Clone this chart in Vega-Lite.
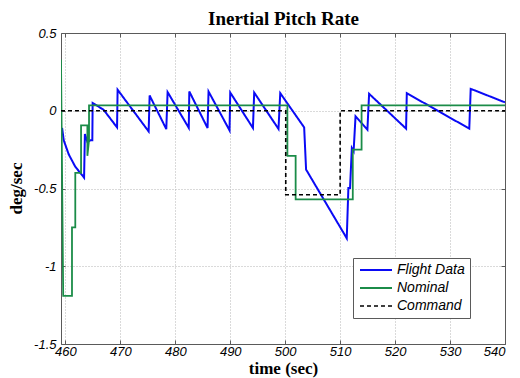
{
  "$schema": "https://vega.github.io/schema/vega-lite/v6.json",
  "width": 444,
  "height": 311,
  "autosize": {"type": "none"},
  "padding": {"left": 61, "top": 33, "right": 15, "bottom": 34},
  "background": "white",
  "data": {
    "values": [
      {"series": "Flight Data", "t": 459.4, "v": -0.11},
      {"series": "Flight Data", "t": 459.7, "v": -0.19},
      {"series": "Flight Data", "t": 460.6, "v": -0.28},
      {"series": "Flight Data", "t": 461.8, "v": -0.36},
      {"series": "Flight Data", "t": 463.4, "v": -0.43},
      {"series": "Flight Data", "t": 463.55, "v": -0.15},
      {"series": "Flight Data", "t": 464.0, "v": -0.2},
      {"series": "Flight Data", "t": 464.55, "v": -0.19},
      {"series": "Flight Data", "t": 464.9, "v": -0.19},
      {"series": "Flight Data", "t": 464.96, "v": 0.05},
      {"series": "Flight Data", "t": 466.96, "v": 0.006},
      {"series": "Flight Data", "t": 469.4, "v": -0.107},
      {"series": "Flight Data", "t": 469.5, "v": 0.135},
      {"series": "Flight Data", "t": 475.15, "v": -0.133},
      {"series": "Flight Data", "t": 475.33, "v": 0.098},
      {"series": "Flight Data", "t": 478.36, "v": -0.118},
      {"series": "Flight Data", "t": 478.6, "v": 0.12},
      {"series": "Flight Data", "t": 482.45, "v": -0.11},
      {"series": "Flight Data", "t": 482.55, "v": 0.124},
      {"series": "Flight Data", "t": 485.87, "v": -0.111},
      {"series": "Flight Data", "t": 486.05, "v": 0.124},
      {"series": "Flight Data", "t": 489.87, "v": -0.126},
      {"series": "Flight Data", "t": 490.0, "v": 0.117},
      {"series": "Flight Data", "t": 494.13, "v": -0.111},
      {"series": "Flight Data", "t": 494.36, "v": 0.117},
      {"series": "Flight Data", "t": 498.78, "v": -0.117},
      {"series": "Flight Data", "t": 499.1, "v": 0.113},
      {"series": "Flight Data", "t": 503.45, "v": -0.107},
      {"series": "Flight Data", "t": 503.8, "v": -0.378},
      {"series": "Flight Data", "t": 511.2, "v": -0.82},
      {"series": "Flight Data", "t": 511.5, "v": -0.496},
      {"series": "Flight Data", "t": 511.8, "v": -0.496},
      {"series": "Flight Data", "t": 512.13, "v": -0.24},
      {"series": "Flight Data", "t": 512.45, "v": -0.26},
      {"series": "Flight Data", "t": 512.8, "v": -0.036},
      {"series": "Flight Data", "t": 514.96, "v": -0.122},
      {"series": "Flight Data", "t": 515.27, "v": 0.109},
      {"series": "Flight Data", "t": 522.0, "v": -0.115},
      {"series": "Flight Data", "t": 522.13, "v": 0.113},
      {"series": "Flight Data", "t": 533.5, "v": -0.115},
      {"series": "Flight Data", "t": 533.76, "v": 0.141},
      {"series": "Flight Data", "t": 540.0, "v": 0.054},

      {"series": "Nominal", "t": 459.2, "v": 0.33},
      {"series": "Nominal", "t": 459.6, "v": -1.19},
      {"series": "Nominal", "t": 461.2, "v": -1.19},
      {"series": "Nominal", "t": 461.2, "v": -0.75},
      {"series": "Nominal", "t": 461.8, "v": -0.75},
      {"series": "Nominal", "t": 461.8, "v": -0.4},
      {"series": "Nominal", "t": 462.85, "v": -0.4},
      {"series": "Nominal", "t": 462.85, "v": -0.094},
      {"series": "Nominal", "t": 464.0, "v": -0.094},
      {"series": "Nominal", "t": 464.0, "v": -0.29},
      {"series": "Nominal", "t": 464.3, "v": -0.19},
      {"series": "Nominal", "t": 464.3, "v": 0.035},
      {"series": "Nominal", "t": 500.4, "v": 0.035},
      {"series": "Nominal", "t": 500.4, "v": -0.29},
      {"series": "Nominal", "t": 501.9, "v": -0.29},
      {"series": "Nominal", "t": 501.9, "v": -0.57},
      {"series": "Nominal", "t": 512.3, "v": -0.57},
      {"series": "Nominal", "t": 512.3, "v": -0.25},
      {"series": "Nominal", "t": 513.9, "v": -0.25},
      {"series": "Nominal", "t": 513.9, "v": 0.035},
      {"series": "Nominal", "t": 540.0, "v": 0.035},

      {"series": "Command", "t": 459.2, "v": 0},
      {"series": "Command", "t": 500.1, "v": 0},
      {"series": "Command", "t": 500.1, "v": -0.54},
      {"series": "Command", "t": 510.0, "v": -0.54},
      {"series": "Command", "t": 510.0, "v": 0},
      {"series": "Command", "t": 540.0, "v": 0}
    ]
  },
  "layer": [
    {
      "mark": {"type": "line", "clip": true},
      "encoding": {
        "x": {
          "field": "t",
          "type": "quantitative",
          "scale": {"domain": [459.2, 540], "nice": false, "zero": false},
          "axis": {
            "values": [460, 470, 480, 490, 500, 510, 520, 530, 540],
            "title": "time (sec)",
            "titleY": 29,
            "titleBaseline": "alphabetic",
            "grid": true,
            "labelPadding": 5
          }
        },
        "y": {
          "field": "v",
          "type": "quantitative",
          "scale": {"domain": [-1.5, 0.5], "nice": false, "zero": false},
          "axis": {
            "values": [-1.5, -1, -0.5, 0, 0.5],
            "labelExpr": "'' + datum.value",
            "title": "deg/sec",
            "titleX": -40,
            "titleY": 155,
            "titleAngle": -90,
            "titleAlign": "center",
            "titleBaseline": "alphabetic",
            "grid": true,
            "labelPadding": 9
          }
        },
        "color": {
          "field": "series",
          "type": "nominal",
          "scale": {
            "domain": ["Flight Data", "Nominal", "Command"],
            "range": ["#0a0af5", "#1b8c48", "#000000"]
          },
          "legend": {"orient": "none", "legendX": 292, "legendY": 225, "title": null}
        },
        "strokeDash": {
          "field": "series",
          "type": "nominal",
          "scale": {
            "domain": ["Flight Data", "Nominal", "Command"],
            "range": [[1, 0], [1, 0], [4, 3]]
          },
          "legend": {"orient": "none", "legendX": 292, "legendY": 225, "title": null}
        },
        "strokeWidth": {
          "field": "series",
          "type": "ordinal",
          "scale": {
            "domain": ["Flight Data", "Nominal", "Command"],
            "range": [2, 1.6, 1.2]
          },
          "legend": null
        },
        "order": {"value": null}
      }
    },
    {
      "mark": {"type": "line", "opacity": 0},
      "encoding": {
        "x": {
          "field": "t",
          "type": "quantitative",
          "axis": {
            "orient": "top",
            "values": [460, 470, 480, 490, 500, 510, 520, 530, 540],
            "labels": false,
            "grid": false,
            "title": "Inertial Pitch Rate",
            "titleFont": "Liberation Serif",
            "titleFontSize": 19,
            "titleFontWeight": "bold",
            "titleX": 222,
            "titleY": -9,
            "titleAlign": "center",
            "titleBaseline": "alphabetic"
          }
        },
        "y": {
          "field": "v",
          "type": "quantitative",
          "axis": {
            "orient": "right",
            "values": [-1.5, -1, -0.5, 0, 0.5],
            "labels": false,
            "title": null,
            "grid": false
          }
        }
      }
    }
  ],
  "resolve": {"axis": {"x": "independent", "y": "independent"}},
  "config": {
    "view": {"stroke": null},
    "axis": {
      "minExtent": 0,
      "domainColor": "#5a5a5a",
      "tickColor": "#5a5a5a",
      "tickSize": -4,
      "labelFont": "Liberation Sans",
      "labelFontStyle": "italic",
      "labelFontSize": 13,
      "labelColor": "black",
      "titleFont": "Liberation Serif",
      "titleFontWeight": "bold",
      "titleFontSize": 17,
      "titleColor": "black",
      "gridColor": "#b5b5b5",
      "gridDash": [1, 2],
      "gridOpacity": 1
    },
    "legend": {
      "symbolType": "M-1,0H5.4",
      "symbolSize": 100,
      "symbolStrokeWidth": 1.4,
      "labelFont": "Liberation Sans",
      "labelFontStyle": "italic",
      "labelFontSize": 14,
      "labelColor": "black",
      "labelOffset": 25,
      "padding": 5,
      "rowPadding": 4,
      "fillColor": "white",
      "strokeColor": "#5a5a5a"
    }
  }
}
